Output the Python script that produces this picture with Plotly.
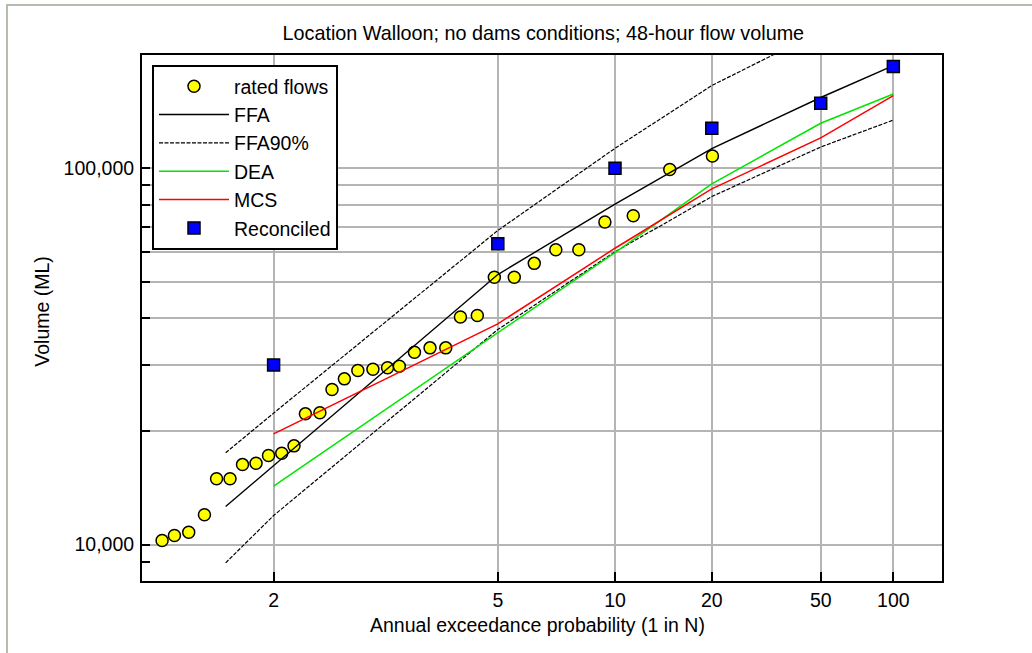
import plotly.graph_objects as go
from statistics import NormalDist

_nd = NormalDist()


def aep_z(n):
    """Normal-probability position of an annual exceedance of 1 in N."""
    return _nd.inv_cdf(1.0 - 1.0 / n)


# ---------------- data ----------------
title_text = "Location Walloon; no dams conditions; 48-hour flow volume"
x_title = "Annual exceedance probability (1 in N)"
y_title = "Volume (ML)"

x_tick_N = [2, 5, 10, 20, 50, 100]
x_tick_labels = ["2", "5", "10", "20", "50", "100"]
y_grid_vals = [10000, 20000, 30000, 40000, 50000, 60000, 70000, 80000, 90000, 100000]
y_tick_labels = ["10,000", "", "", "", "", "", "", "", "", "100,000"]
y_minor_vals = [9000]

rated_N = [1.51, 1.55, 1.60, 1.66, 1.71, 1.77, 1.83, 1.90, 1.97, 2.05, 2.13,
           2.21, 2.32, 2.42, 2.53, 2.66, 2.82, 2.99, 3.14, 3.35, 3.59, 3.86,
           4.14, 4.50, 4.91, 5.46, 6.10, 6.91, 7.94, 9.36, 11.3, 14.6, 20.1]
rated_V = [10250, 10570, 10780, 12000, 14950, 14950, 16310, 16440, 17240, 17480, 18290,
           22250, 22390, 25820, 27560, 29000, 29240, 29490, 29780, 32430, 33320, 33320,
           40240, 40610, 51320, 51320, 55880, 60730, 60730, 71950, 74790, 99220, 107800]

ffa_N = [1.75, 2, 5, 10, 20, 50, 100]
ffa_V = [12620, 16220, 52180, 80340, 112800, 154200, 187400]
ffa90_upper_V = [17530, 22350, 68330, 113000, 165900, 231600, 282000]
ffa90_lower_V = [8940, 11940, 37280, 60000, 84100, 113900, 134300]

dea_N = [2, 5, 10, 20, 50, 100]
dea_V = [14290, 36600, 59700, 90900, 131700, 157600]

mcs_N = [2, 5, 10, 20, 50, 100]
mcs_V = [19690, 38600, 61300, 88150, 120400, 156000]

rec_N = [2, 5, 10, 20, 50, 100]
rec_V = [30000, 63000, 100000, 127800, 148900, 186300]

# ---------------- figure ----------------
FONT = "Liberation Sans, Arial, sans-serif"
FS = 19.5

fig = go.Figure()

fig.add_trace(go.Scatter(
    x=[aep_z(n) for n in rated_N], y=rated_V, mode="markers", name="rated flows",
    marker=dict(symbol="circle", size=12, color="#ffff00",
                line=dict(color="#000000", width=1.5)),
))
fig.add_trace(go.Scatter(
    x=[aep_z(n) for n in ffa_N], y=ffa_V, mode="lines", name="FFA",
    line=dict(color="#000000", width=1.4),
))
fig.add_trace(go.Scatter(
    x=[aep_z(n) for n in ffa_N], y=ffa90_upper_V, mode="lines", name="FFA90%",
    legendgroup="ffa90", line=dict(color="#000000", width=1.2, dash="4px,1.5px"),
))
fig.add_trace(go.Scatter(
    x=[aep_z(n) for n in ffa_N], y=ffa90_lower_V, mode="lines", name="FFA90%",
    legendgroup="ffa90", showlegend=False,
    line=dict(color="#000000", width=1.2, dash="4px,1.5px"),
))
fig.add_trace(go.Scatter(
    x=[aep_z(n) for n in dea_N], y=dea_V, mode="lines", name="DEA",
    line=dict(color="#00e600", width=1.5),
))
fig.add_trace(go.Scatter(
    x=[aep_z(n) for n in mcs_N], y=mcs_V, mode="lines", name="MCS",
    line=dict(color="#ff0000", width=1.5),
))
fig.add_trace(go.Scatter(
    x=[aep_z(n) for n in rec_N], y=rec_V, mode="markers", name="Reconciled",
    marker=dict(symbol="square", size=12, color="#0000ff",
                line=dict(color="#000000", width=1.5)),
))

W, H = 1032, 653
ML, MR, MT, MB = 142, 90, 55, 72
PW, PH = W - ML - MR, H - MT - MB


def px_to_paper_x(px):
    return (px - ML) / PW


def px_to_paper_y(py):
    return (H - MB - py) / PH


fig.update_layout(
    width=W, height=H,
    margin=dict(l=ML, r=MR, t=MT, b=MB, pad=0),
    paper_bgcolor="white", plot_bgcolor="white",
    font=dict(family=FONT, size=FS, color="#000000"),
    title=dict(text=title_text, x=0.5265, xanchor="center",
               y=1 - 33 / H, yanchor="middle", yref="container",
               font=dict(family=FONT, size=19.8, color="#000000")),
    showlegend=True,
    legend=dict(x=px_to_paper_x(152), y=px_to_paper_y(65), xanchor="left", yanchor="top",
                bgcolor="white", bordercolor="#000000", borderwidth=2,
                font=dict(family=FONT, size=FS, color="#000000"),
                itemwidth=70, tracegroupgap=0, traceorder="normal"),
    xaxis=dict(
        range=[-0.494, 2.509], showgrid=True, gridcolor="#b4b4b4", gridwidth=1.5,
        tickvals=[aep_z(n) for n in x_tick_N], ticktext=x_tick_labels,
        ticks="inside", ticklen=9, tickwidth=1.5, tickcolor="#000000",
        showline=True, linecolor="#000000", linewidth=2, mirror=True,
        zeroline=False, ticklabelstandoff=1,
        tickfont=dict(family=FONT, size=FS, color="#000000"),
    ),
    yaxis=dict(
        type="log", range=[3.90309, 5.30103], showgrid=True, gridcolor="#b4b4b4", gridwidth=1.5,
        tickvals=y_grid_vals, ticktext=y_tick_labels,
        ticks="inside", ticklen=8, tickwidth=1.5, tickcolor="#000000",
        minor=dict(tickvals=y_minor_vals, ticks="inside", ticklen=8, tickwidth=1.5,
                   tickcolor="#000000", showgrid=False),
        showline=True, linecolor="#000000", linewidth=2, mirror=True,
        zeroline=False, ticklabelstandoff=2,
        tickfont=dict(family=FONT, size=FS, color="#000000"),
    ),
    annotations=[
        dict(text=x_title, xref="paper", yref="paper", x=px_to_paper_x(537.5),
             y=px_to_paper_y(625), xanchor="center", yanchor="middle", showarrow=False,
             font=dict(family=FONT, size=FS, color="#000000")),
        dict(text=y_title, xref="paper", yref="paper", x=px_to_paper_x(41.7),
             y=px_to_paper_y(311), xanchor="center", yanchor="middle", showarrow=False,
             textangle=-90, font=dict(family=FONT, size=FS, color="#000000")),
    ],
    shapes=[
        dict(type="line", xref="paper", yref="paper", layer="below",
             x0=px_to_paper_x(7), x1=px_to_paper_x(7),
             y0=px_to_paper_y(H + 40), y1=px_to_paper_y(5),
             line=dict(color="#b4bcab", width=2)),
        dict(type="line", xref="paper", yref="paper", layer="below",
             x0=px_to_paper_x(6), x1=px_to_paper_x(W + 40),
             y0=px_to_paper_y(5), y1=px_to_paper_y(5),
             line=dict(color="#b4bcab", width=2)),
    ],
)

fig.write_html("out.html", include_plotlyjs=True, full_html=True,
               config={"displayModeBar": False},
               post_script="document.body.style.margin='0';document.body.style.overflow='hidden';")
